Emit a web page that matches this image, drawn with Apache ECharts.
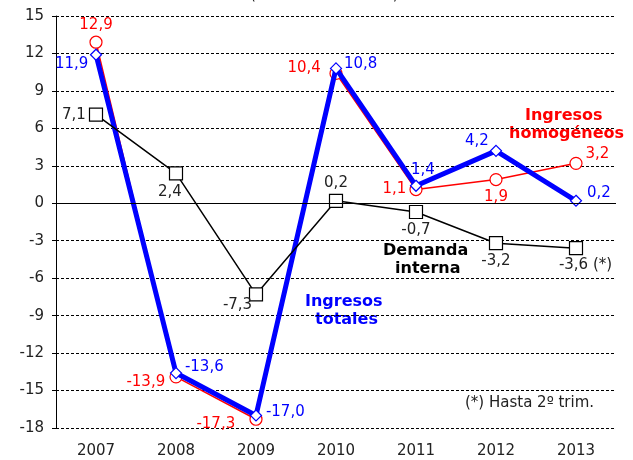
<!DOCTYPE html>
<html><head><meta charset="utf-8">
<script src="https://cdn.jsdelivr.net/npm/echarts@6/dist/echarts.min.js"></script>
<style>html,body{margin:0;padding:0;background:#fff}#c{width:633px;height:460px}</style>
</head><body><div id="c"></div>
<script>
const categories = ['2007','2008','2009','2010','2011','2012','2013'];
const ingresosHomogeneos = [12.9, -13.9, -17.3, 10.4, 1.1, 1.9, 3.2];
const ingresosTotales = [11.9, -13.6, -17.0, 10.8, 1.4, 4.2, 0.2];
const demandaInterna = [7.1, 2.4, -7.3, 0.2, -0.7, -3.2, -3.6];
const yTicks = {min: -18, max: 15, interval: 3};

const posRed = ['top',[-43,4],[-53,4],[-42,-6],'left','bottom',[16,-10]];
const posBlue = [[-35,8],[15,-7],[16,-5],[14,-6],[1,-17],[-25,-11],[17,-9]];
const posBlack = ['left',[-11,18],[-26,10],'top','bottom','bottom',[-10,16]];

const fmt = v => v.toFixed(1).replace('.', ',');
const F = 'DejaVu Sans, Verdana, sans-serif';

function mk(vals, pos, color, extra) {
  return vals.map((v, i) => ({
    value: v,
    label: {show: true, position: pos[i], color: color, fontFamily: F, fontSize: 15,
      formatter: p => fmt(p.value) + (extra && extra[i] ? extra[i] : ''), distance: 3}
  }));
}

const chart = echarts.init(document.getElementById('c'));
chart.setOption({
  animation: false,
  grid: {left: 56, right: 17, top: 16, bottom: 32},
  xAxis: {
    type: 'category', data: categories, boundaryGap: true,
    axisLine: {show: false}, axisTick: {show: false},
    axisLabel: {color: '#222', fontFamily: F, fontSize: 15, margin: 16}
  },
  yAxis: {
    type: 'value', min: yTicks.min, max: yTicks.max, interval: yTicks.interval,
    axisLine: {show: true, lineStyle: {color: '#000', width: 1}},
    axisTick: {show: true, length: 4, lineStyle: {color: '#000'}},
    axisLabel: {color: '#222', fontFamily: F, fontSize: 15, margin: 12},
    splitLine: {show: true, lineStyle: {color: '#000', type: [3, 2], width: 1}}
  },
  graphic: [
    {type: 'text', left: 250, top: -12, style: {text: '(tasas de variación)', fill: '#222', font: '15px ' + F}},
    {type: 'text', left: 525, top: 108, style: {text: 'Ingresos', fill: '#ff0000', font: 'bold 16px ' + F}},
    {type: 'text', left: 509, top: 126, style: {text: 'homogéneos', fill: '#ff0000', font: 'bold 16px ' + F}},
    {type: 'text', left: 305, top: 294, style: {text: 'Ingresos', fill: '#0000ff', font: 'bold 16px ' + F}},
    {type: 'text', left: 315, top: 312, style: {text: 'totales', fill: '#0000ff', font: 'bold 16px ' + F}},
    {type: 'text', left: 383, top: 243, style: {text: 'Demanda', fill: '#000', font: 'bold 16px ' + F}},
    {type: 'text', left: 395, top: 261, style: {text: 'interna', fill: '#000', font: 'bold 16px ' + F}},
    {type: 'text', left: 465, top: 396, style: {text: '(*) Hasta 2º trim.', fill: '#222', font: '15px ' + F}}
  ],
  series: [
    {
      name: 'Ingresos homogéneos', type: 'line', z: 2,
      data: mk(ingresosHomogeneos, posRed, '#ff0000'),
      symbol: 'circle', symbolSize: 12,
      lineStyle: {color: '#ff0000', width: 1.5},
      itemStyle: {color: '#fff', borderColor: '#ff0000', borderWidth: 1.2},
      markLine: {silent: true, symbol: 'none', label: {show: false},
        lineStyle: {color: '#000', type: 'solid', width: 1}, data: [{yAxis: 0}]}
    },
    {
      name: 'Ingresos totales', type: 'line', z: 3,
      data: mk(ingresosTotales, posBlue, '#0000ff'),
      symbol: 'diamond', symbolSize: 11,
      lineStyle: {color: '#0000ff', width: 5},
      itemStyle: {color: '#fff', borderColor: '#0000ff', borderWidth: 1.2}
    },
    {
      name: 'Demanda interna', type: 'line', z: 4,
      data: mk(demandaInterna, posBlack, '#222', [0,0,0,0,0,0,' (*)']),
      symbol: 'rect', symbolSize: 13,
      lineStyle: {color: '#000', width: 1.5},
      itemStyle: {color: '#fff', borderColor: '#000', borderWidth: 1.2}
    }
  ]
});
</script></body></html>
